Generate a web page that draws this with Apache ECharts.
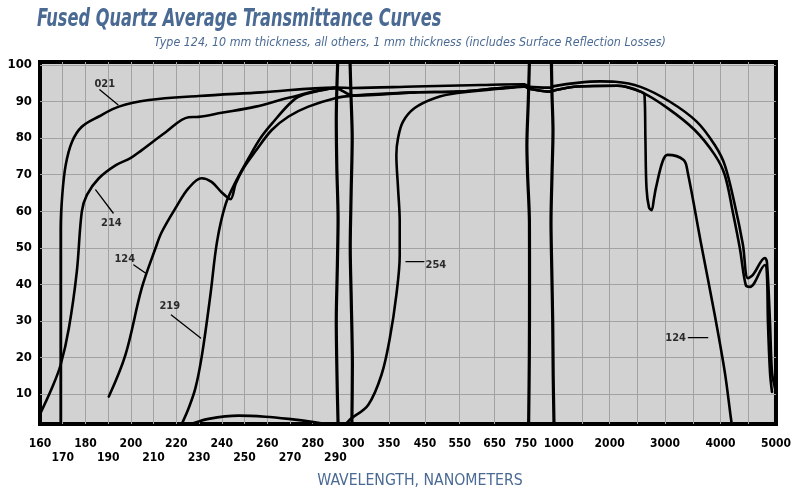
<!DOCTYPE html>
<html lang="en">
<head>
<meta charset="UTF-8">
<title>Fused Quartz Average Transmittance Curves</title>
<script src="https://cdn.jsdelivr.net/npm/echarts@6.0.0/dist/echarts.min.js"></script>
<style>
  html, body { margin: 0; padding: 0; background: #fff; }
  #chart { width: 794px; height: 490px; }
</style>
</head>
<body>
<div id="chart"></div>
<script>
// broken wavelength axis: each wavelength stop and where it sits along the axis
const axisWl  = [160, 290, 300, 350, 450, 550, 650, 750, 1000, 5000];
const axisPos = [0, 297, 315, 351, 387, 422, 457, 492, 517, 740];

const xGridWl  = [170, 180, 190, 200, 210, 220, 230, 240, 250, 260, 270, 280,
                  350, 450, 550, 650, 1500, 2000, 2500, 3000, 3500, 4000, 4500];
const upperRowWl = [160, 180, 200, 220, 240, 260, 280, 300, 350, 450, 550, 650, 750, 1000,
                    2000, 3000, 4000, 5000];
const lowerRowWl = [170, 190, 210, 230, 250, 270, 290];
const yTicks = [10, 20, 30, 40, 50, 60, 70, 80, 90, 100];

// [wavelength nm, transmittance %]
const type021 = [[169.1,1.8],[169.1,55],[169.8,64.4],[171.3,72.6],[174.1,79],[178.4,83.1],[185.9,85.9],
  [194.7,88.6],[207.9,90.4],[229.8,91.5],[257.5,92.5],[290,93.8],[300,93.7],[422,94.1],[610,94.5],
  [736,94.7],[750,94],[960,93.8],[1000,94.2],[1416,95.1],[1833,95.5],[2100,95.4],[2557,94],[3081,90],
  [3570,84.5],[3896,78.1],[4077,72.6],[4258,61.7],[4403,50.9],[4493,41.7],[4584,42.6],[4801,47.2],
  [4837,46],[4892,29.7],[4928,16],[4982,11.6],[5000,10.5]];
const type214 = [[160,4.5],[165.3,11.7],[169.1,18],[172.7,28],[176.2,43.5],[178.4,59.9],[180.6,64.4],
  [185.9,69],[193.4,72.6],[199.8,74.5],[204.8,76.7],[215.3,81.6],[225.4,85.7],[229.8,85.8],[239.9,86.9],
  [254.9,88.6],[269.4,91],[290,93.6],[300,91.6],[422,92.5],[544,92.7],[659,93.6],[736,94.1],[750,93.5],
  [960,92.7],[1000,93],[1416,94.1],[2140,94.3],[2557,92.7],[3045,88.2],[3534,82.2],[3896,75.4],
  [4077,69.9],[4222,59.7],[4349,49.8],[4457,39.7],[4530,39.3],[4801,45.3],[4837,42.6],[4855,29.7],
  [4892,16],[4928,10.6]];
const type124 = [[190.3,9.3],[197.6,20.7],[204.8,39],[210.9,50],[213.6,54.3],[219.7,60.9],[225.4,66.3],
  [231.1,69],[235.5,68],[239.9,65.2],[243.8,63.3],[246.1,67.5],[249.6,71.8],[254.7,76.3],[262,82.2],
  [269.4,85.9],[278.1,88.6],[289.9,90.9],[300,91.6],[422,92.5],[544,92.7],[659,93.6],[736,94.1],
  [750,93.5],[960,92.7],[1000,93],[1416,94.1],[2140,94.3],[2557,92.7],[2629,91.8],[2645,80],[2665,66.3],
  [2710,61],[2756,60.3],[2800,63.5],[2834,66.3],[2955,73.6],[3045,75.4],[3335,74],[3407,70.7],
  [3643,51.6],[3896,31.6],[4077,16],[4186,3.5],[4210,1]];
const type219 = [[222.4,1.8],[225.4,6.1],[228.4,11.6],[231.3,20.7],[235,37.1],[237.9,51.6],[241.6,61.7],
  [246.1,68],[251.8,74.5],[257.5,80.4],[263.5,85],[269.4,89.1],[273.7,91.3],[281.1,92.7],[289.9,93.8]];
const type254 = [[222,1],[225.4,1.6],[234.2,3.2],[247.4,4.1],[259.1,3.8],[269.4,3.2],[281.1,2.3],
  [288.2,1.6],[293,1.2],[299.1,3.4],[320.8,7],[339.3,15.2],[351.9,25.2],[370.3,37.1],[379.7,48],
  [379.7,57.1],[375,66.3],[370.3,75.4],[375,80],[388.9,84.5],[421.4,88.2],[477.7,90.9],[543.6,92.3],
  [743.8,94.1]];

// wavy axis-break strokes
const breakA = [[291.5,1.8],[290.9,15],[290.5,30],[291.1,45],[291.5,58],[290.8,72],[290.5,85],[291.3,100.8]];
const breakB = [[299.2,1.8],[299.5,18],[298.9,35],[298.3,50],[298.8,65],[299.4,80],[298.7,92],[298.2,100.8]];
const breakC = [[748,1.8],[750,20],[752,40],[751,57],[745,70],[743,78],[747,90],[751,100.8]];
const breakD = [[998,1.8],[990,15],[985,30],[975,45],[968,57],[978,70],[988,82],[978,92],[972,100.8]];

const labelNames  = ['021', '214', '124', '219', '254', '124'];
const labelPoints = [[188.5,94.8],[191.4,56.8],[197.3,47],[217.1,34.1],[481.4,45.3],[3190,25.3]];
const leaders = [
  [[186.3,93.2],[194.3,89.1]],
  [[184.5,65.8],[192.2,59.5]],
  [[201.3,45.3],[206.4,43.1]],
  [[217.8,31.6],[230.7,25.3]],
  [[397.2,46.2],[447.2,46.2]],
  [[3420,25.4],[3769,25.4]]
];

function toPos(wl) {
  for (let i = 1; i < axisWl.length; i++) {
    if (wl <= axisWl[i]) {
      const t = (wl - axisWl[i - 1]) / (axisWl[i] - axisWl[i - 1]);
      return axisPos[i - 1] + t * (axisPos[i] - axisPos[i - 1]);
    }
  }
  return axisPos[axisPos.length - 1];
}
const asXY = pts => pts.map(p => [toPos(p[0]), p[1]]);

function nearestWl(list, pos) {
  let best = list[0];
  list.forEach(w => { if (Math.abs(toPos(w) - pos) < Math.abs(toPos(best) - pos)) best = w; });
  return best;
}

const font = "'DejaVu Sans Condensed', 'Liberation Sans', sans-serif";
const blue = '#4a6a94';
const tickFont = { color: '#000', fontSize: 12, fontWeight: 'bold', fontFamily: font };

const chart = echarts.init(document.getElementById('chart'));

const lineSeries = (pts, width, smooth) => ({
  type: 'line',
  data: asXY(pts),
  smooth: smooth,
  showSymbol: false,
  silent: true,
  lineStyle: { color: '#000', width: width, cap: 'round', join: 'round' }
});

const bottomAxis = (rowWl, offset, withGrid) => ({
  type: 'value',
  position: 'bottom',
  min: 0,
  max: 740,
  offset: offset,
  axisLine: { show: false },
  axisTick: { show: false, customValues: xGridWl.map(toPos) },
  splitLine: { show: withGrid, lineStyle: { color: '#a2a2a2', width: 1 } },
  axisLabel: Object.assign({
    customValues: rowWl.map(toPos),
    showMinLabel: true,
    showMaxLabel: true,
    margin: 14,
    formatter: v => {
      const w = nearestWl(rowWl, v);
      if (w === 750) return '{l|750}';
      if (w === 1000) return '{r|1000}';
      return String(w);
    },
    rich: {
      l: Object.assign({ padding: [0, 7, 0, 0] }, tickFont),
      r: Object.assign({ padding: [0, 0, 0, 9] }, tickFont)
    }
  }, tickFont)
});

chart.setOption({
  animation: false,
  graphic: [
    {
      type: 'text', x: 37, y: 8, scaleX: 0.75,
      style: { text: 'Fused Quartz Average Transmittance Curves', fill: blue,
               font: 'italic bold 24px ' + font }
    },
    {
      type: 'text', x: 410, y: 43, scaleX: 0.95,
      style: { text: 'Type 124, 10 mm thickness, all others, 1 mm thickness (includes Surface Reflection Losses)',
               fill: blue, align: 'center', verticalAlign: 'middle', font: 'italic 13px ' + font }
    },
    {
      type: 'text', x: 420, y: 481, scaleX: 0.98,
      style: { text: 'WAVELENGTH, NANOMETERS', fill: blue, align: 'center', verticalAlign: 'middle',
               font: '16px ' + font }
    }
  ],
  grid: {
    left: 40, right: 14, top: 62, bottom: 66,
    containLabel: false,
    show: true,
    backgroundColor: '#d2d2d2',
    borderColor: '#000',
    borderWidth: 4
  },
  xAxis: [
    bottomAxis(upperRowWl, 0, true),
    bottomAxis(lowerRowWl, 14, false)
  ],
  yAxis: {
    type: 'value',
    min: 1.8,
    max: 100.8,
    axisLine: { show: false },
    axisTick: { show: false, customValues: yTicks },
    splitLine: { show: true, lineStyle: { color: '#a2a2a2', width: 1 } },
    axisLabel: {
      customValues: yTicks,
      margin: 8,
      color: '#000',
      fontSize: 13,
      fontWeight: 'bold',
      fontFamily: font
    }
  },
  series: [
    ...[type021, type214, type124, type219, type254].map(c => lineSeries(c, 2.6, 0.35)),
    ...[breakA, breakB, breakC, breakD].map(b => lineSeries(b, 3.2, 0.3)),
    ...leaders.map(l => lineSeries(l, 1.3, false)),
    {
      type: 'scatter',
      silent: true,
      symbolSize: 0,
      data: labelPoints.map((p, i) => ({ name: labelNames[i], value: [toPos(p[0]), p[1]] })),
      label: {
        show: true, position: 'inside', formatter: '{b}',
        color: '#000', fontSize: 11, fontWeight: 'bold', fontFamily: font
      }
    }
  ]
});

window.addEventListener('resize', () => chart.resize());
</script>
</body>
</html>
